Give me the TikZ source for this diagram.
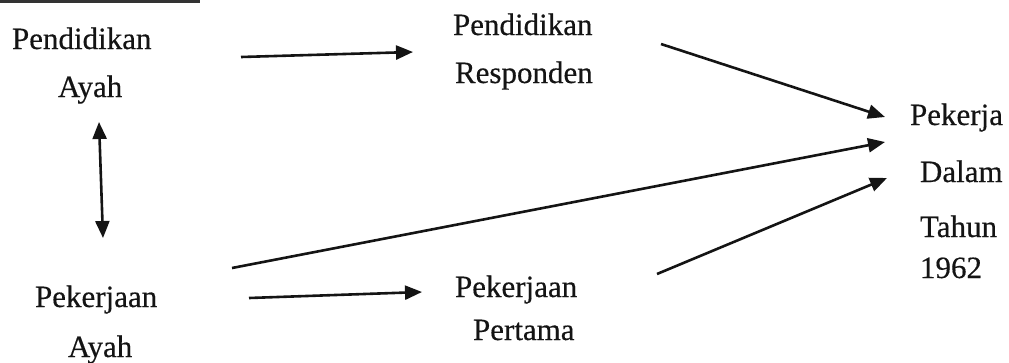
\documentclass[tikz,border=0pt]{standalone}
\usepackage{fontspec}
\setmainfont{Liberation Serif}
\newfontfamily\scanfont[FakeBold=0.4]{Liberation Serif}
\usetikzlibrary{arrows.meta}
\begin{document}
\begin{tikzpicture}[x=1pt,y=-1pt,
  lbl/.style={anchor=base west,inner sep=0pt,outer sep=0pt,font=\scanfont\fontsize{31}{37}\selectfont,text=black!92},
  conn/.style={line width=2.6pt,draw=black!92,-{Triangle[length=17pt,width=14pt]}},
  dconn/.style={line width=2.6pt,draw=black!92,{Triangle[length=17pt,width=14pt]}-{Triangle[length=17pt,width=14pt]}}]
\useasboundingbox (0,0) rectangle (1009,362);
% scan edge at top left
\draw[line width=2.2pt,black!80] (0,1.5) -- (200,1.5);
% labels
\node[lbl] (pa1) at (12,49) {Pendidikan};
\node[lbl] (pa2) at (58,97) {Ayah};
\node[lbl] (pr1) at (453,35) {Pendidikan};
\node[lbl] (pr2) at (455,83) {Responden};
\node[lbl] (pk1) at (910,125) {Pekerja};
\node[lbl] (pk2) at (920,182) {Dalam};
\node[lbl] (pk3) at (920,237) {Tahun};
\node[lbl] (pk4) at (920,278) {1962};
\node[lbl] (ka1) at (35,307) {Pekerjaan};
\node[lbl] (ka2) at (68,357) {Ayah};
\node[lbl] (kp1) at (455,297) {Pekerjaan};
\node[lbl] (kp2) at (473,340) {Pertama};
% connector end points
\coordinate (a1s) at (241,57);  \coordinate (a1e) at (413,52);
\coordinate (a2s) at (661,44);  \coordinate (a2e) at (885,117);
\coordinate (dus) at (99,122);  \coordinate (dds) at (103,238);
\coordinate (a3s) at (232,268); \coordinate (a3e) at (885,142);
\coordinate (a4s) at (249,298); \coordinate (a4e) at (422,292);
\coordinate (a5s) at (657,274); \coordinate (a5e) at (887,178);
% connectors
\draw[conn] (a1s) -- (a1e);
\draw[conn] (a2s) -- (a2e);
\draw[dconn] (dus) -- (dds);
\draw[conn] (a3s) -- (a3e);
\draw[conn] (a4s) -- (a4e);
\draw[conn] (a5s) -- (a5e);
\end{tikzpicture}
\end{document}
